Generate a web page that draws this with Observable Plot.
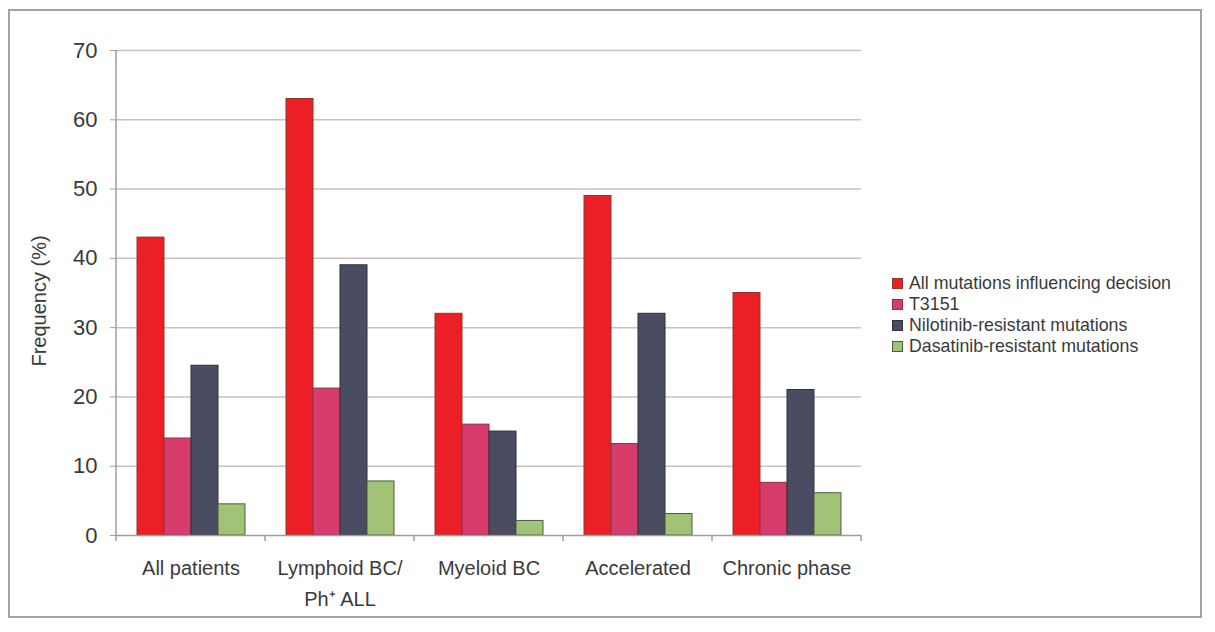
<!DOCTYPE html>
<html>
<head>
<meta charset="utf-8">
<script src="https://cdn.jsdelivr.net/npm/d3@7"></script>
<script src="https://cdn.jsdelivr.net/npm/@observablehq/plot@0.6"></script>
<style>
  html, body { margin: 0; padding: 0; background: #fff; }
  #wrap { position: relative; width: 1215px; height: 632px; overflow: hidden;
          font-family: "Liberation Sans", Arial, sans-serif; color: #333; }
  #frame { position: absolute; left: 8px; top: 9px; width: 1194px; height: 609px;
           border: 2px solid #a3a3a3; box-sizing: border-box; }
  #chart { position: absolute; left: 0; top: 0; }
  #ytitle { position: absolute; left: 39px; top: 301px; transform: translate(-50%, -50%) rotate(-90deg);
            font-size: 20px; white-space: nowrap; color: #3a3a3a; }
  #legend { position: absolute; left: 892px; top: 273px; font-size: 17.8px; color: #3a3a3a; }
  .row { display: flex; align-items: center; height: 21px; white-space: nowrap; }
  .sw { width: 9px; height: 9px; border: 1px solid #555; margin-right: 6px; flex: none; }
</style>
</head>
<body>
<div id="wrap">
  <div id="frame"></div>
  <div id="chart"></div>
  <div id="ytitle">Frequency (%)</div>
  <div id="legend"></div>
</div>
<script>
// ---- data ----
const categories = ["All patients", "Lymphoid BC/\nPh\u207A ALL", "Myeloid BC", "Accelerated", "Chronic phase"];
const seriesNames = ["All mutations influencing decision", "T3151", "Nilotinib-resistant mutations", "Dasatinib-resistant mutations"];
const allMutations = [43, 63, 32, 49, 35];
const t315 = [14, 21.2, 16, 13.2, 7.6];
const nilotinibRes = [24.5, 39, 15, 32, 21];
const dasatinibRes = [4.5, 7.8, 2.1, 3.1, 6.1];
const yTicks = [0, 10, 20, 30, 40, 50, 60, 70];
const colors = ["#ec1e26", "#d83c6c", "#4a4c62", "#a1c377"];
const strokes = ["#8a3a2a", "#8a3048", "#2e2f3c", "#4e5e3c"];

const seriesValues = [allMutations, t315, nilotinibRes, dasatinibRes];
const rows = [];
categories.forEach((c, i) => {
  seriesNames.forEach((s, j) => rows.push({category: c, series: s, value: seriesValues[j][i]}));
});

const plot = Plot.plot({
  width: 1215,
  height: 632,
  marginLeft: 115,
  marginRight: 352.5,
  marginTop: 50,
  marginBottom: 97,
  style: {fontFamily: "'Liberation Sans', Arial, sans-serif", background: "transparent", overflow: "visible"},
  fx: {domain: categories, padding: 0},
  x: {domain: seriesNames, paddingInner: 0, paddingOuter: 0.743, axis: null},
  y: {domain: [0, 70]},
  color: {domain: seriesNames, range: colors},
  marks: [
    Plot.ruleY(yTicks.filter(d => d > 0), {stroke: "#ccbfbf", strokeWidth: 1.5}),
    Plot.barY(rows, {
      fx: "category", x: "series", y: "value",
      fill: "series",
      stroke: d => strokes[seriesNames.indexOf(d.series)],
      strokeWidth: 1
    }),
    Plot.ruleY([0], {stroke: "#a89a9a", strokeWidth: 1.5}),
    Plot.axisY({ticks: yTicks, tickSize: 6, tickPadding: 13, fontSize: 22, label: null,
                stroke: "#a89a9a", fill: "#3a3a3a", tickFormat: d => String(d)}),
    Plot.axisFx({anchor: "bottom", tickSize: 0, tickPadding: 17, fontSize: 20, label: null,
                 fill: "#3a3a3a", lineHeight: 1.55})
  ]
});

document.getElementById("chart").appendChild(plot);

// axis lines and category boundary ticks from the plot's own scales
const fx = plot.scale("fx");
const ys = plot.scale("y");
const svg = d3.select(plot);
const y0 = ys.apply(0), yTop = ys.apply(70);
const xLeft = fx.apply(categories[0]);
svg.append("line").attr("x1", xLeft).attr("x2", xLeft).attr("y1", yTop).attr("y2", y0)
  .attr("stroke", "#a89a9a").attr("stroke-width", 1.5);
const bounds = categories.map(c => fx.apply(c)).concat([fx.apply(categories[categories.length - 1]) + fx.bandwidth]);
bounds.forEach(b => {
  svg.append("line").attr("x1", b).attr("x2", b).attr("y1", y0).attr("y2", y0 + 6)
    .attr("stroke", "#a89a9a").attr("stroke-width", 1.5);
});

// legend
const legend = d3.select("#legend");
seriesNames.forEach((s, i) => {
  const r = legend.append("div").attr("class", "row");
  r.append("div").attr("class", "sw").style("background", colors[i]).style("border-color", strokes[i]);
  r.append("span").text(s);
});
</script>
</body>
</html>
